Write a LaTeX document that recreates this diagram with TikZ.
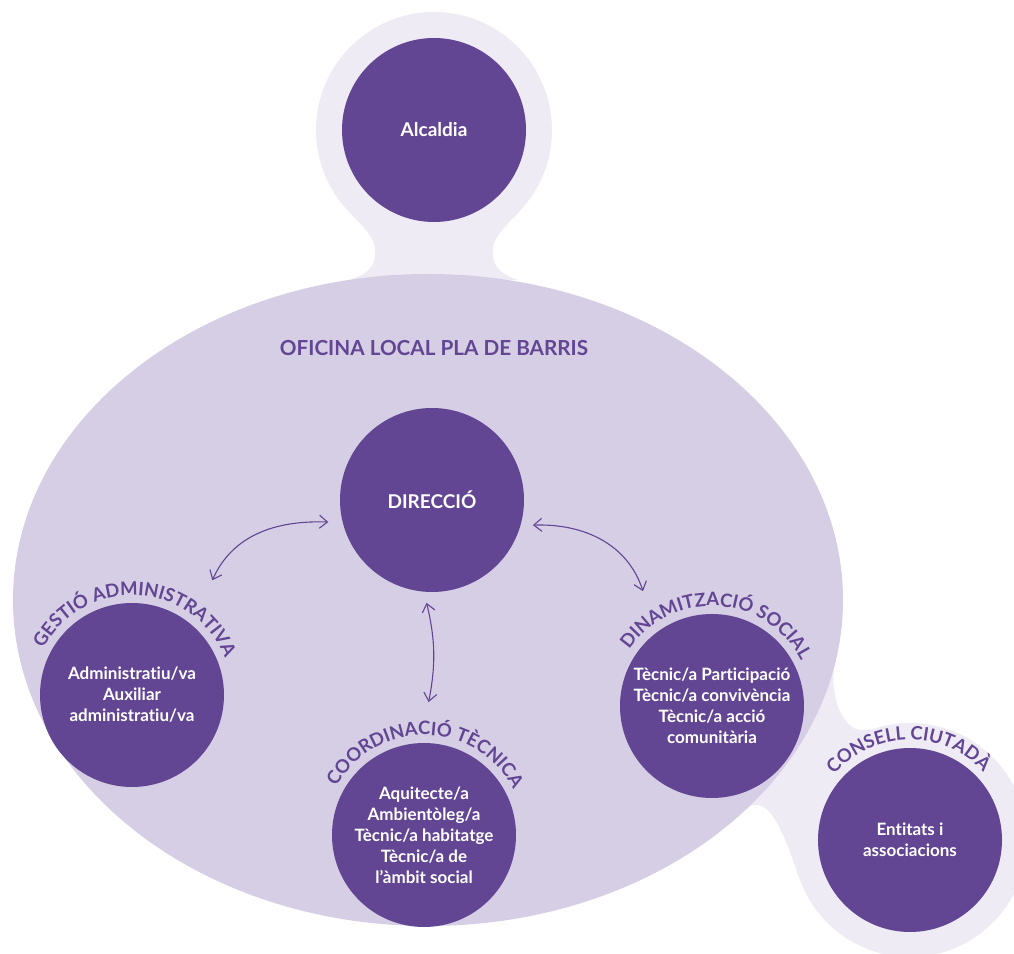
\documentclass[tikz,border=0pt]{standalone}
\usepackage{fontspec}
\setmainfont{Lato}[Ligatures=NoCommon]
\usetikzlibrary{calc}
\usetikzlibrary{arrows.meta}
\usetikzlibrary{decorations.text}

\definecolor{purp}{HTML}{624593}
\definecolor{lila}{HTML}{D6CEE5}
\definecolor{halo}{HTML}{EFEBF5}

\newcommand{\arclbl}{\color{purp}\bfseries\fontsize{18.5}{18}\selectfont}

\tikzset{
  bubble/.style={circle, fill=purp, minimum size=184pt, inner sep=0pt, text=white, align=center,
    font=\bfseries\fontsize{17}{21}\selectfont},
  bigbubble/.style={bubble, font=\bfseries\fontsize{19}{21}\selectfont},
  conn/.style={purp, line width=1.1pt, {Straight Barb[length=8pt,width=13pt]}-{Straight Barb[length=8pt,width=13pt]}},
  arclabel/.style={decorate, decoration={text along path, text align=center}}
}

\begin{document}
\begin{tikzpicture}[x=1pt,y=1pt]
\useasboundingbox (0,0) rectangle (1014,953);
\clip (0,0) rectangle (1014,953);

% halos and necks
\fill[halo] (350,740) .. controls (372,718) and (376,710) .. (375,700) .. controls (375,688) and (370,680) .. (350,673)
  -- (518,673) .. controls (498,680) and (493,688) .. (493,700) .. controls (492,710) and (496,718) .. (518,740) -- cycle;
\fill[halo] (434,823) circle (118);
\fill[halo] (835,290) -- (700,200) -- (745,143) to[out=43,in=110] (800,73) -- (910,113) -- (870,224) to[out=200,in=256] (835,290) -- cycle;
\fill[halo] (910,113) circle (117);

% oficina
\fill[lila] (428,353) ellipse [x radius=415, y radius=326];
\node[purp, font=\bfseries\fontsize{20.7}{20}\selectfont] (ofi) at (434,605) {OFICINA LOCAL PLA DE BARRIS};

\node[bigbubble] (alc) at (434,823) {Alcaldia};
\node[bigbubble] (dir) at (432,453) {DIRECCIÓ};
\node[bubble] (gest) at (132,258) {Administratiu/va\\Auxiliar\\administratiu/va};
\node[bubble] (dinam) at (712,247) {Tècnic/a Participació\\Tècnic/a convivència\\Tècnic/a acció\\comunitària};
\node[bubble] (coord) at (424,118) {Aquitecte/a\\Ambientòleg/a\\Tècnic/a habitatge\\Tècnic/a de\\l’àmbit social};
\node[bubble] (cons) at (910,113) {Entitats i\\associacions};

% labels round the circles
\path[arclabel, decoration={text={|\arclbl|GESTIÓ ADMINISTRATIVA}}] ($(gest)+(175:100)$) arc[start angle=175, end angle=-1, radius=100];
\path[arclabel, decoration={text={|\arclbl|DINAMITZACIÓ SOCIAL}}] ($(dinam)+(175:100)$) arc[start angle=175, end angle=-2, radius=100];
\path[arclabel, decoration={text={|\arclbl|COORDINACIÓ TÈCNICA}}] ($(coord)+(178:100)$) arc[start angle=178, end angle=0, radius=100];
\path[arclabel, decoration={text={|\arclbl|CONSELL CIUTADÀ}}] ($(cons)+(180:100)$) arc[start angle=180, end angle=2, radius=100];

% arrows
\coordinate (dL) at ($(dir)+(192:106)$);
\coordinate (dR) at ($(dir)+(-14:104)$);
\coordinate (dB) at ($(dir)+(-93:103)$);
\coordinate (gU) at ($(gest)+(55:140)$);
\coordinate (sU) at ($(dinam)+(121:134)$);
\coordinate (cU) at ($(coord)+(88:133)$);

\draw[conn] (gU) to[out=66,in=178] (dL);
\draw[conn] (dR) to[out=2,in=108] (sU);
\draw[conn] (dB) to[bend left=12] (cU);

\end{tikzpicture}
\end{document}
